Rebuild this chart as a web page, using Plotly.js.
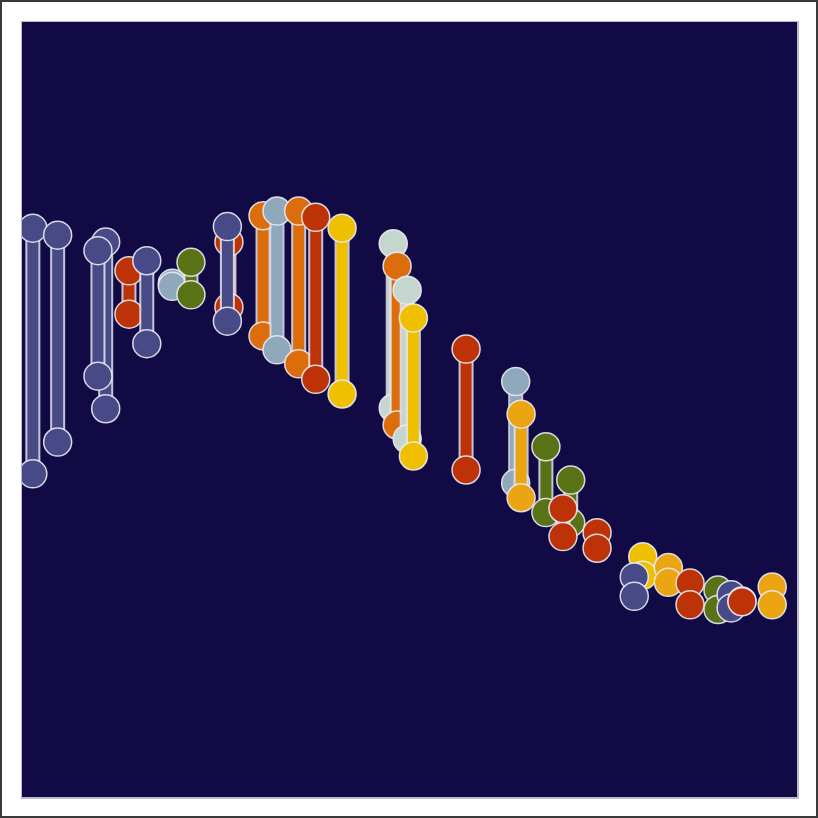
<!DOCTYPE html>
<html>
<head>
<meta charset="utf-8">
<script src="https://cdn.plot.ly/plotly-3.0.1.min.js"></script>
<style>
    body { margin: 0; background: white; }
    #frame { width: 818px; height: 818px; box-sizing: border-box; border: 2px solid #3a3a3a; }
    #dumbbell_chart { width: 814px; height: 814px; }
</style>
</head>
<body>
<div id="frame"><div id="dumbbell_chart"></div></div>
<script>
// one entry per dumbbell, in drawing order
var x_list = [1.4, 4.6, 10.8, 9.8, 13.8, 16.1, 19.4, 21.8, 26.7, 26.5,
              31.1, 32.9, 35.7, 37.9, 41.3, 47.9, 48.4, 49.7, 50.5, 57.3,
              63.7, 64.4, 67.6, 70.8, 69.8, 74.2, 80.1, 79.0, 83.4, 86.2,
              89.8, 91.5, 92.9, 96.8]
var start_list = [73.4, 72.5, 71.6, 70.5, 67.9, 69.2, 66.3, 69.0, 71.6, 73.6,
                  75.0, 75.6, 75.6, 74.8, 73.4, 71.4, 68.5, 65.4, 61.8, 57.8,
                  53.6, 49.4, 45.2, 40.9, 37.2, 34.1, 31.0, 28.4, 29.6, 27.6,
                  26.7, 26.1, 25.3, 27.1]
var end_list = [41.7, 45.8, 50.1, 54.3, 62.3, 58.5, 65.9, 64.8, 63.2, 61.4,
                59.5, 57.7, 55.9, 53.9, 52.0, 50.2, 48.0, 46.2, 44.0, 42.2,
                40.5, 38.6, 36.7, 35.4, 33.6, 32.1, 28.6, 25.9, 27.7, 24.8,
                24.2, 24.4, 25.2, 24.8]
var group_list = ['A', 'A', 'A', 'A', 'B', 'A', 'D', 'E', 'B', 'A',
                  'C', 'D', 'C', 'B', 'F', 'G', 'C', 'G', 'F', 'B',
                  'D', 'H', 'E', 'E', 'B', 'B', 'F', 'A', 'H', 'B',
                  'E', 'A', 'B', 'H']

var palette = {
    A: '#474a87',
    B: '#bd3207',
    C: '#dc6d0d',
    D: '#8fa8bb',
    E: '#5a7216',
    F: '#efc000',
    G: '#c4d6cd',
    H: '#eba412',
}

var data = []
for (i = 0; i < x_list.length; i++) {
    var col = palette[group_list[i]]
    // pale edge under the bar
    data.push({
        x: [x_list[i], x_list[i]],
        y: [start_list[i], end_list[i]],
        mode: 'lines',
        type: 'scatter',
        line: { color: 'rgba(230,230,240,0.85)', width: 15 },
        hoverinfo: 'skip',
        showlegend: false,
    })
    data.push({
        x: [x_list[i], x_list[i]],
        y: [start_list[i], end_list[i]],
        mode: 'lines+markers',
        type: 'scatter',
        name: group_list[i],
        line: { color: col, width: 11 },
        marker: {
            size: 28,
            color: col,
            line: { color: 'rgba(235,235,245,0.9)', width: 1.5 },
        },
        showlegend: false,
    })
}

var layout = {
    width: 814,
    height: 814,
    margin: { t: 20, l: 20, r: 19, b: 19, pad: 0 },
    paper_bgcolor: 'white',
    plot_bgcolor: '#110a45',
    showlegend: false,
    xaxis: {
        range: [0, 100],
        showgrid: false,
        zeroline: false,
        showticklabels: false,
        ticks: '',
        showline: true,
        mirror: true,
        linecolor: '#b9b9d3',
        linewidth: 1.5,
    },
    yaxis: {
        range: [0, 100],
        showgrid: false,
        zeroline: false,
        showticklabels: false,
        ticks: '',
        showline: true,
        mirror: true,
        linecolor: '#b9b9d3',
        linewidth: 1.5,
    },
}

Plotly.newPlot('dumbbell_chart', data, layout, {displayModeBar: false, staticPlot: true})
</script>
</body>
</html>
